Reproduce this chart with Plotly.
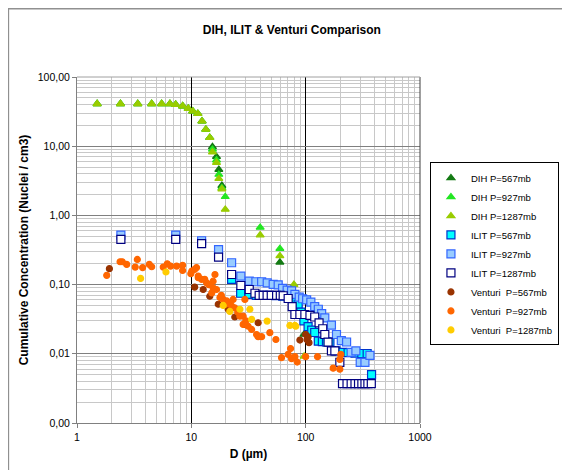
import plotly.graph_objects as go

# ---------------- data ----------------
dih_x_common = [1.5, 2.4, 3.4, 4.5, 5.5, 6.5, 7.3, 8.4, 9.4, 10.3, 11.4, 12.4, 13.4, 14.5]
dih_y_common = [41, 41, 41, 41, 41, 41, 40, 38, 35, 32, 29.5, 23, 17.5, 13.3]

dih567_x = dih_x_common + [15.3, 16.6, 17.4, 18.5, 59.5, 96.5]
dih567_y = dih_y_common + [9.8, 7.05, 4.6, 2.7, 0.21, 0.019]
dih927_x = dih_x_common + [15.3, 16.6, 17.4, 18.5, 19.8, 40, 59.5]
dih927_y = dih_y_common + [9.0, 6.3, 3.9, 2.5, 1.86, 0.67, 0.33]
dih1287_x = dih_x_common + [15.3, 16.6, 17.4, 18.5, 19.8, 40, 59.5, 79, 97]
dih1287_y = dih_y_common + [8.2, 5.8, 3.4, 2.4, 1.22, 0.52, 0.26, 0.1, 0.0092]

ilit567_x = [22.5, 27, 32, 37, 42, 48, 55, 63, 72, 80, 86, 91, 96.5, 105, 113, 120,
             129, 140, 152, 163, 184, 210, 235, 270, 310, 345, 377]
ilit567_y = [0.119, 0.075, 0.072, 0.07, 0.07, 0.07, 0.069, 0.068, 0.066, 0.06, 0.052, 0.04,
             0.030, 0.0247, 0.022, 0.0203, 0.0152, 0.0150, 0.0148, 0.0147, 0.011, 0.0105,
             0.0104, 0.0102, 0.0101, 0.0101, 0.005]

ilit927_x = [2.42, 7.3, 12.3, 17.3, 22.5, 27.1, 32.1, 36.7, 41.2, 46.1, 52, 57.5, 62.8, 68.9,
             75.3, 80.5, 87.8, 94, 102, 111, 120, 129, 138, 147, 168, 186, 205, 228, 250,
             275, 300, 330, 365]
ilit927_y = [0.52, 0.52, 0.43, 0.32, 0.207, 0.133, 0.112, 0.110, 0.110, 0.106, 0.101, 0.099,
             0.088, 0.083, 0.081, 0.072, 0.066, 0.0625, 0.060, 0.056, 0.048, 0.044, 0.038,
             0.033, 0.026, 0.019, 0.0155, 0.0148, 0.0105, 0.011, 0.0075, 0.0075, 0.0095]

ilit1287_x = [2.42, 7.3, 12.3, 17.3, 22.5, 27.1, 32.1, 36, 39.2, 42.5, 46, 50, 55.7, 60,
              63.6, 70.3, 76.2, 80.5, 89, 98.4, 109, 120, 131, 141, 147, 157, 168, 180,
              199, 210, 230, 250, 270, 290, 310, 330, 350, 375]
ilit1287_y = [0.45, 0.45, 0.39, 0.25, 0.14, 0.097, 0.085, 0.075, 0.07, 0.07, 0.07, 0.07,
              0.07, 0.07, 0.069, 0.063, 0.048, 0.037, 0.037, 0.037, 0.036, 0.034, 0.028,
              0.023, 0.019, 0.0147, 0.011, 0.011, 0.0075, 0.0037, 0.0037, 0.0037, 0.0037,
              0.0037, 0.0037, 0.0037, 0.0037, 0.0037]

ven567_x = [1.92, 10.7, 12.7, 14.5, 17.2, 21, 24, 29.4, 38.4, 89, 100, 103, 105, 107]
ven567_y = [0.17, 0.092, 0.085, 0.068, 0.052, 0.044, 0.034, 0.0266, 0.0281, 0.0158, 0.019,
            0.016, 0.0175, 0.0145]

ven927_x = [1.82, 2.38, 2.49, 2.72, 3.37, 3.23, 3.75, 4.29, 4.5, 5.68, 6.16, 6.59, 7.44,
            8.39, 8.39, 9.9, 11.1, 11.5, 12.3, 10.1, 10.7, 11.5, 13.1, 13.6, 15.5, 16.1,
            15.5, 15.1, 16.6, 17.8, 19, 20.4, 21.7, 23.2, 22.5, 24, 26.6, 28.4, 28.4, 31.4,
            33.7, 37.2, 38.4, 41.2, 48.6, 54.9, 29.4, 73.8, 61.5, 70.3, 75.3, 80.5, 84.3,
            100, 127, 174, 199, 203, 199, 14.2, 18.3, 20, 25.5, 30]
ven927_y = [0.136, 0.214, 0.214, 0.196, 0.231, 0.179, 0.176, 0.196, 0.181, 0.179, 0.2,
            0.185, 0.185, 0.19, 0.16, 0.144, 0.176, 0.133, 0.119, 0.157, 0.166, 0.126,
            0.119, 0.106, 0.112, 0.14, 0.09, 0.076, 0.085, 0.065, 0.061, 0.058, 0.055,
            0.061, 0.049, 0.046, 0.035, 0.035, 0.0266, 0.025, 0.0225, 0.019, 0.0177,
            0.0177, 0.0202, 0.0161, 0.061, 0.0119, 0.0088, 0.0098, 0.0085, 0.0091, 0.0076,
            0.0091, 0.0091, 0.0062, 0.0083, 0.0098, 0.006, 0.1, 0.07, 0.052, 0.04, 0.03]

ven1287_x = [3.6, 6.0, 19, 21.7, 26.6, 32.5, 33.7, 46, 72.8, 80.5, 82]
ven1287_y = [0.123, 0.152, 0.05, 0.041, 0.044, 0.044, 0.0314, 0.0297, 0.0257, 0.0257, 0.025]

y_tickvals = [0.001, 0.01, 0.1, 1, 10, 100]
y_ticktext = ["0,00", "0,01", "0,10", "1,00", "10,00", "100,00"]
x_tickvals = [1, 10, 100, 1000]
x_ticktext = ["1", "10", "100", "1000"]

# ---------------- figure ----------------
fig = go.Figure()


def add(x, y, name, symbol, size, fill, line):
    fig.add_trace(go.Scatter(
        x=x, y=y, mode="markers", name=name,
        marker=dict(symbol=symbol, size=size, color=fill,
                    line=dict(color=line, width=1.2))))


add(dih567_x, dih567_y, "DIH P=567mb", "triangle-up", 7, "#137a13", "#137a13")
add(dih927_x, dih927_y, "DIH P=927mb", "triangle-up", 7, "#22e622", "#22e622")
add(dih1287_x, dih1287_y, "DIH P=1287mb", "triangle-up", 7, "#99cc00", "#99cc00")
add(ilit567_x, ilit567_y, "ILIT P=567mb", "square", 8, "#00ffff", "#0033cc")
add(ilit927_x, ilit927_y, "ILIT P=927mb", "square", 8, "#99ccff", "#3366ff")
add(ilit1287_x, ilit1287_y, "ILIT P=1287mb", "square", 8, "#ffffff", "#000080")
add(ven567_x, ven567_y, "Venturi  P=567mb", "circle", 6, "#993300", "#993300")
add(ven927_x, ven927_y, "Venturi  P=927mb", "circle", 6, "#ff6600", "#ff6600")
add(ven1287_x, ven1287_y, "Venturi  P=1287mb", "circle", 6, "#ffcc00", "#ffcc00")

font_family = "Liberation Sans, Arial, sans-serif"

fig.update_layout(
    width=562, height=462,
    margin=dict(l=69, r=150, t=69, b=47, autoexpand=False),
    paper_bgcolor="white", plot_bgcolor="white",
    font=dict(family=font_family, size=10, color="#000000"),
    title=dict(text="<b>DIH, ILIT & Venturi Comparison</b>", x=0.505, xref="container",
               xanchor="center", y=0.952, yanchor="middle", yref="container",
               font=dict(size=12, family=font_family)),
    legend=dict(x=1.029, y=0.753, xanchor="left", yanchor="top",
                bgcolor="white", bordercolor="#000000", borderwidth=1,
                font=dict(size=9.5, family=font_family), tracegroupgap=0),
    showlegend=True,
)

fig.update_xaxes(
    type="log", range=[0, 3], automargin=False,
    tickvals=x_tickvals, ticktext=x_ticktext,
    ticks="outside", ticklen=4, tickcolor="#808080",
    showline=True, linecolor="#808080", linewidth=1, mirror=False,
    showgrid=True, gridcolor="#000000", gridwidth=1,
    minor=dict(dtick="D1", showgrid=True, gridcolor="#c8c8c8", gridwidth=1, ticks=""),
    zeroline=False,
    title=dict(text="<b>D (µm)</b>", font=dict(size=12, family=font_family), standoff=8),
    tickfont=dict(size=10.5),
)
fig.update_yaxes(
    type="log", range=[-3, 2], automargin=False,
    tickvals=y_tickvals, ticktext=y_ticktext,
    ticks="outside", ticklen=4, tickcolor="#808080",
    showline=True, linecolor="#808080", linewidth=1, mirror=False,
    showgrid=True, gridcolor="#808080", gridwidth=1,
    minor=dict(dtick="D1", showgrid=True, gridcolor="#c8c8c8", gridwidth=1, ticks=""),
    zeroline=False,
    title=dict(text="<b>Cumulative Concentration (Nuclei / cm3)</b>",
               font=dict(size=12, family=font_family), standoff=6),
    tickfont=dict(size=10.5),
)

# right border of the plot area and the outer chart frame
fig.add_shape(type="line", xref="paper", yref="paper", x0=1, x1=1, y0=0, y1=1,
              line=dict(color="#404040", width=1))
fig.add_shape(type="line", xref="paper", yref="paper", x0=0, x1=1, y0=1, y1=1,
              line=dict(color="#a0a0a0", width=1))
fig.add_shape(type="rect", xref="paper", yref="paper", x0=-0.2, x1=1.5, y0=-0.2, y1=1.197,
              line=dict(color="#909090", width=1.5), layer="below")

fig.write_html("out.html")
